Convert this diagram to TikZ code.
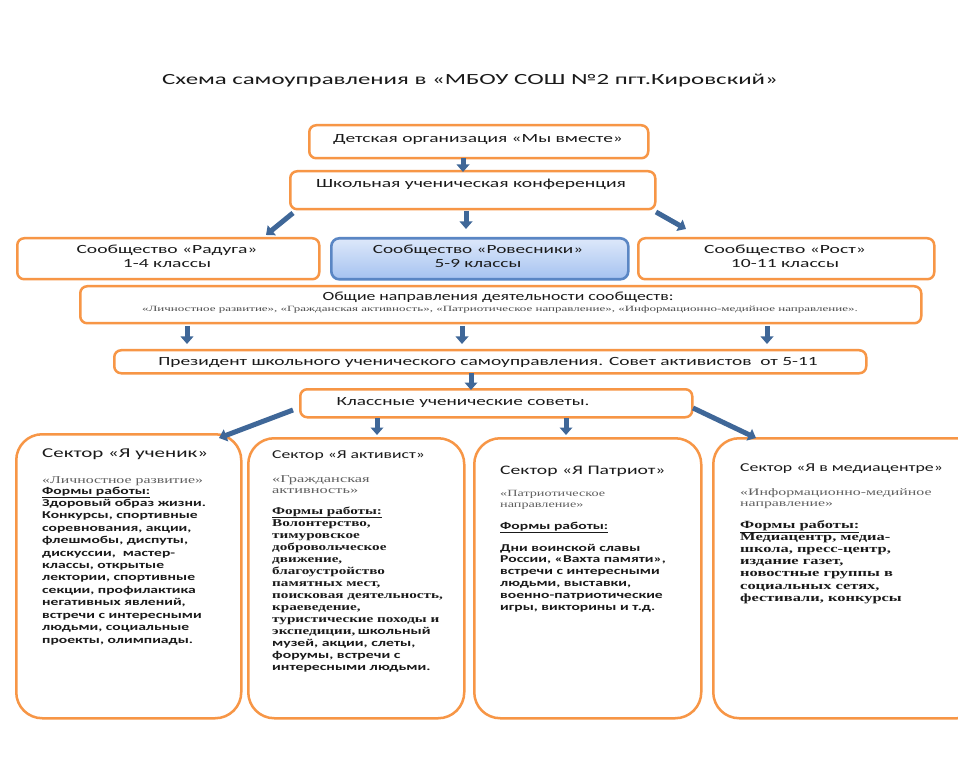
\documentclass[tikz,border=0pt]{standalone}
\usepackage{fontspec}
\usepackage{graphicx}
\setmainfont{Carlito}
\newfontfamily\calf[FakeStretch=1.35]{Carlito}
\newfontfamily\tmsf[FakeStretch=1.3]{Liberation Serif}
\newcommand\hsc[2]{\scalebox{#1}[1]{#2}}
\usetikzlibrary{arrows.meta,calc}
\definecolor{orng}{HTML}{F79646}
\definecolor{arrb}{HTML}{3F6798}
\definecolor{bbord}{HTML}{5A86C4}
\definecolor{btop}{HTML}{DDE8FA}
\definecolor{bbot}{HTML}{A5C2F0}
\definecolor{txt}{HTML}{1A1A1A}
\definecolor{dirg}{HTML}{606060}
\tikzset{
  obox/.style={draw=orng, line width=2.5pt, rounded corners=7pt, fill=white, inner sep=0pt, anchor=north west},
  sbox/.style={draw=orng, line width=2.5pt, rounded corners=26pt, fill=white, inner sep=0pt, anchor=north west},
  bbox/.style={draw=bbord, line width=2.6pt, rounded corners=8pt, top color=btop, bottom color=bbot, inner sep=0pt, anchor=north west},
  barrow/.style={draw=arrb, line width=5pt, -{Triangle[width=12.5pt,length=7.5pt]}},
  lbl/.style={inner sep=0pt, text=txt},
}
\begin{document}
\begin{tikzpicture}[x=1pt,y=-1pt]
\useasboundingbox[fill=white] (0,0) rectangle (958,783);
% title
\node[lbl, font=\fontsize{15.5}{18}\calf] (title) at (470,81) {\hsc{1.188}{Схема самоуправления в «МБОУ СОШ №2 пгт.Кировский»}};
% boxes
\node[obox, minimum width=339pt, minimum height=33pt] (b1) at (308,124) {};
\node[obox, minimum width=365pt, minimum height=38pt] (b2) at (289,170) {};
\node[obox, minimum width=302pt, minimum height=41pt] (r1) at (16,237) {};
\node[bbox, minimum width=297pt, minimum height=41pt] (r2) at (330,237) {};
\node[obox, minimum width=296pt, minimum height=41pt] (r3) at (637,237) {};
\node[obox, minimum width=841pt, minimum height=37pt] (g) at (79,285) {};
\node[obox, minimum width=752pt, minimum height=23pt] (p) at (113,349) {};
\node[obox, minimum width=392pt, minimum height=28pt] (k) at (299,388) {};
\node[sbox, minimum width=225pt, minimum height=284pt] (s1) at (15,433) {};
\node[sbox, minimum width=216pt, minimum height=280pt] (s2) at (247,437) {};
\node[sbox, minimum width=227pt, minimum height=280pt] (s3) at (473,437) {};
\node[sbox, minimum width=270pt, minimum height=280pt] (s4) at (712,437) {};
% box texts
\node[lbl, font=\fontsize{12.5}{15}\calf] (b1t) at (478,140) {\hsc{1.151}{Детская организация «Мы вместе»}};
\node[lbl, font=\fontsize{12.5}{15}\calf] (b2t) at (471,184) {\hsc{1.163}{Школьная ученическая конференция}};
\node[lbl, font=\fontsize{12.5}{14}\calf] (r1t) at (167,258) {\hsc{1.16}{\begin{tabular}{@{}c@{}}Сообщество «Радуга»\\1-4 классы\end{tabular}}};
\node[lbl, font=\fontsize{12.5}{14}\calf] (r2t) at (478,258) {\hsc{1.14}{\begin{tabular}{@{}c@{}}Сообщество «Ровесники»\\5-9 классы\end{tabular}}};
\node[lbl, font=\fontsize{12.5}{14}\calf] (r3t) at (785,258) {\hsc{1.16}{\begin{tabular}{@{}c@{}}Сообщество «Рост»\\10-11 классы\end{tabular}}};
\node[lbl, font=\fontsize{12.5}{15}\calf] (g1) at (498,297) {\hsc{1.05}{Общие направления деятельности сообществ:}};
\node[lbl, font=\fontsize{8}{9}\tmsf, text=dirg!80!black] (g2) at (500,310) {\hsc{1.25}{«Личностное развитие», «Гражданская активность», «Патриотическое направление», «Информационно-медийное направление».}};
\node[lbl, font=\fontsize{12.5}{15}\calf] (pt) at (488,362) {\hsc{1.15}{Президент школьного ученического самоуправления. Совет активистов\ \ от 5-11}};
\node[lbl, font=\fontsize{12.5}{15}\calf] (kt) at (463,402) {\hsc{1.14}{Классные ученические советы.}};
% arrows
\coordinate (a1s) at (463,158); \coordinate (a1e) at (463,172);
\coordinate (a2s) at (293,213); \coordinate (a2e) at (266,235);
\coordinate (a3s) at (466,211); \coordinate (a3e) at (466,229);
\coordinate (a4s) at (656,212); \coordinate (a4e) at (686,229);
\coordinate (a5s) at (187,326); \coordinate (a5e) at (187,344);
\coordinate (a6s) at (462,326); \coordinate (a6e) at (462,344);
\coordinate (a7s) at (767,326); \coordinate (a7e) at (767,344);
\coordinate (a8s) at (471,373); \coordinate (a8e) at (471,390);
\coordinate (a9s) at (293,410); \coordinate (a9e) at (219,438);
\coordinate (a10s) at (377,418); \coordinate (a10e) at (377,435);
\coordinate (a11s) at (566,418); \coordinate (a11e) at (566,435);
\coordinate (a12s) at (693,408); \coordinate (a12e) at (756,438);
\foreach \i in {1,...,12} {\draw[barrow] (a\i s) -- (a\i e);}
% sector 1
\node[lbl, anchor=base west, font=\fontsize{13.5}{15}\calf] (s1t) at (42,457) {\hsc{1.15}{Сектор «Я ученик»}};
\node[lbl, anchor=base west, font=\fontsize{10.5}{12}\tmsf, text=dirg] (s1d) at (42,483) {\hsc{1.16}{«Личностное развитие»}};
\node[lbl, anchor=base west] (s1b) at (42,494) {\hsc{1.10}{\parbox[t]{200pt}{\fontsize{10.5}{12.42}\calf\bfseries\raggedright
\underline{Формы работы:}\\
Здоровый образ жизни.\\
Конкурсы, спортивные\\
соревнования, акции,\\
флешмобы, диспуты,\\
дискуссии,\ \ мастер-\\
классы, открытые\\
лектории, спортивные\\
секции, профилактика\\
негативных явлений,\\
встречи с интересными\\
людьми, социальные\\
проекты, олимпиады.}}};
% sector 2
\node[lbl, anchor=base west, font=\fontsize{12}{14}\calf] (s2t) at (272,458) {\hsc{1.09}{Сектор «Я активист»}};
\node[lbl, anchor=base west] (s2d) at (272,476) {\hsc{1.2}{\parbox[t]{180pt}{\fontsize{10.5}{11}\tmsf\color{dirg}\raggedright «Гражданская\\активность»}}};
\node[lbl, anchor=base west] (s2b) at (272,514) {\hsc{1.11}{\parbox[t]{200pt}{\fontsize{10.5}{11.85}\raggedright
{\tmsf\bfseries\underline{Формы работы:}}\\
{\tmsf\bfseries Волонтерство,}\\
{\tmsf\bfseries тимуровское}\\
{\tmsf\bfseries добровольческое}\\
{\tmsf\bfseries движение,}\\
{\tmsf\bfseries благоустройство}\\
{\tmsf\bfseries памятных мест,}\\
{\tmsf\bfseries поисковая деятельность,}\\
{\tmsf\bfseries краеведение,}\\
{\tmsf\bfseries туристические походы и}\\
{\tmsf\bfseries экспедиции,} {\calf\bfseries школьный}\\
{\calf\bfseries музей, акции, слеты,}\\
{\calf\bfseries форумы, встречи с}\\
{\calf\bfseries интересными людьми.}}}};
% sector 3
\node[lbl, anchor=base west, font=\fontsize{13}{15}\calf] (s3t) at (500,474) {\hsc{1.12}{Сектор «Я Патриот»}};
\node[lbl, anchor=base west] (s3d) at (500,490) {\hsc{1.15}{\parbox[t]{180pt}{\fontsize{9.5}{11}\tmsf\color{dirg}\raggedright «Патриотическое\\направление»}}};
\node[lbl, anchor=base west, font=\fontsize{10.5}{12}\calf\bfseries] (s3f) at (500,529) {\hsc{1.10}{\underline{Формы работы:}}};
\node[lbl, anchor=base west] (s3b) at (500,551) {\hsc{1.10}{\parbox[t]{200pt}{\fontsize{10.5}{11.8}\calf\bfseries\raggedright
Дни воинской славы\\
России, «Вахта памяти»,\\
встречи с интересными\\
людьми, выставки,\\
военно-патриотические\\
игры, викторины и т.д.}}};
% sector 4
\node[lbl, anchor=base west, font=\fontsize{12}{14}\calf] (s4t) at (740,471) {\hsc{1.10}{Сектор «Я в медиацентре»}};
\node[lbl, anchor=base west] (s4d) at (740,489) {\hsc{1.22}{\parbox[t]{200pt}{\fontsize{10}{10.5}\tmsf\color{dirg}\raggedright «Информационно-медийное\\направление»}}};
\node[lbl, anchor=base west] (s4b) at (740,528) {\hsc{1.15}{\parbox[t]{200pt}{\fontsize{11}{12.2}\tmsf\bfseries\raggedright
\underline{Формы работы:}\\
Медиацентр, медиа-\\
школа, пресс-центр,\\
издание газет,\\
новостные группы в\\
социальных сетях,\\
фестивали, конкурсы}}};
\end{tikzpicture}
\end{document}
